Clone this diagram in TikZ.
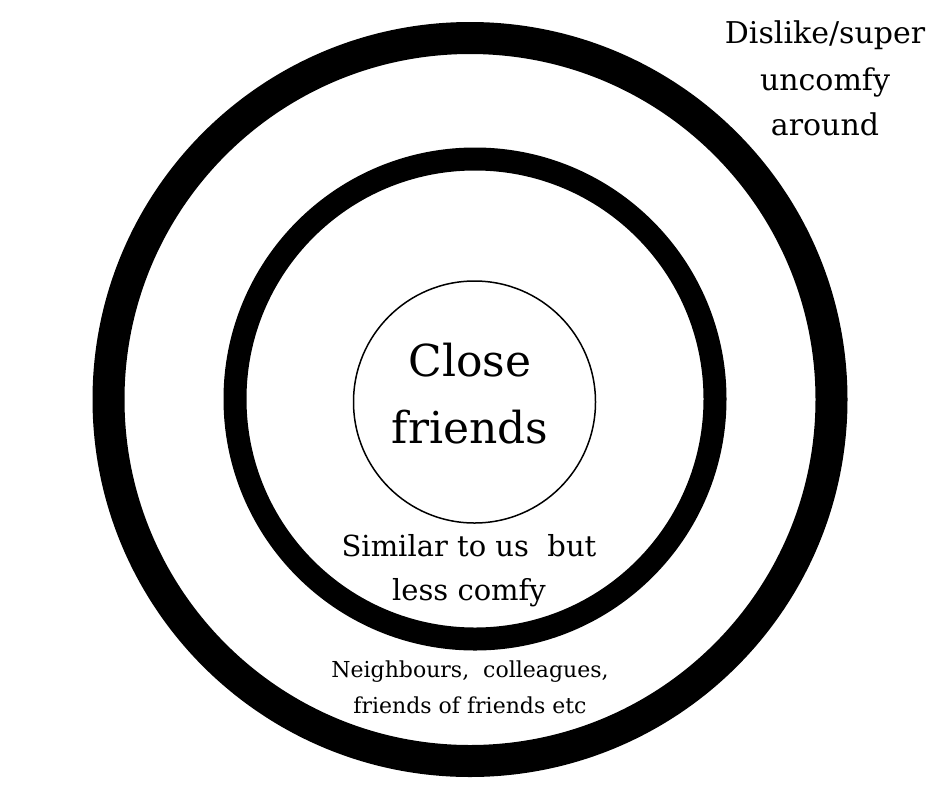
\documentclass[tikz,border=0pt]{standalone}
\usepackage{fontspec}
\setmainfont{DejaVu Serif}
\begin{document}
\begin{tikzpicture}[x=1pt,y=-1pt,
  ring/.style={draw=black},
  lbl/.style={anchor=base,inner sep=0pt,text=black},
  big/.style={lbl,font=\fontsize{44}{52}\selectfont},
  mid/.style={lbl,font=\fontsize{29}{34}\selectfont},
  small/.style={lbl,font=\fontsize{22}{26}\selectfont},
  corner/.style={lbl,font=\fontsize{30}{36}\selectfont}]
\useasboundingbox[fill=white] (0,0) rectangle (940,788);
\draw[ring,line width=32pt] (470,399.5) circle[radius=361.5];
\draw[ring,line width=23pt] (475,399) circle[radius=240];
\draw[ring,line width=1.5pt] (474.5,402) circle[radius=121];
\node[big] (c1) at (470,376) {Close};
\node[big] (c2) at (470,443) {friends};
\node[mid] (s1) at (469,556) {Similar to us\ \ but};
\node[mid] (s2) at (469,600) {less comfy};
\node[small] (n1) at (470,677) {Neighbours,\ \ colleagues,};
\node[small] (n2) at (470,713) {friends of friends etc};
\node[corner] (d1) at (825,43) {Dislike/super};
\node[corner] (d2) at (825,90) {uncomfy};
\node[corner] (d3) at (825,135) {around};
\end{tikzpicture}
\end{document}
